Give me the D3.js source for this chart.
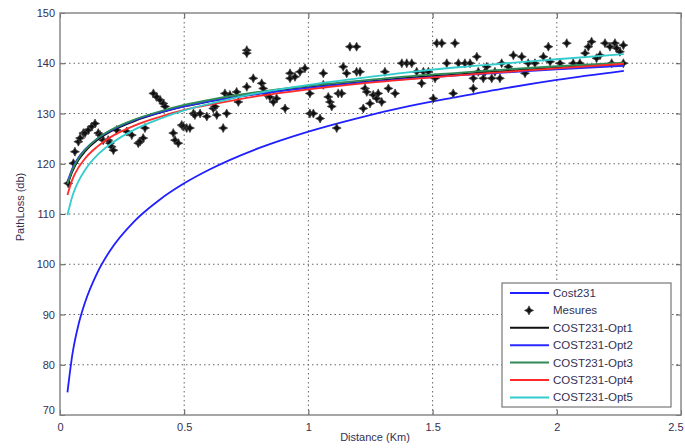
<!DOCTYPE html>
<html><head><meta charset="utf-8">
<script src="https://cdn.jsdelivr.net/npm/d3@7"></script>
<style>body{margin:0;background:#fff}svg{display:block}text{font-family:"Liberation Sans",Arial,sans-serif}</style>
</head><body><svg id="c" width="685" height="448"></svg>
<script>
const xTicks=[0,0.5,1,1.5,2,2.5];
const yTicks=[70,80,90,100,110,120,130,140,150];
const dist=[0.03,0.05,0.075,0.1,0.15,0.2,0.3,0.4,0.5,0.6,0.8,1.0,1.2,1.4,1.6,1.8,2.0,2.27];
const cost231=[74.5,82.1,88.1,92.3,98.3,102.6,108.6,112.8,116.1,118.8,123.1,126.4,129.1,131.4,133.3,135.1,136.7,138.5];
const opt1=[115.7,118.5,120.8,122.4,124.7,126.3,128.5,130.1,131.4,132.4,134.0,135.2,136.2,137.1,137.8,138.5,139.1,139.8];
const opt2=[116.4,119.1,121.3,122.8,125.0,126.5,128.7,130.2,131.4,132.4,133.9,135.1,136.1,136.9,137.6,138.2,138.8,139.5];
const opt3=[116.0,118.8,121.1,122.7,125.0,126.6,128.8,130.4,131.7,132.7,134.3,135.5,136.5,137.4,138.1,138.8,139.4,140.1];
const opt4=[113.8,116.9,119.3,121.0,123.4,125.2,127.6,129.3,130.7,131.7,133.5,134.8,135.9,136.8,137.6,138.3,139.0,139.9];
const opt5=[109.8,113.6,116.6,118.7,121.7,123.8,126.8,128.9,130.6,131.9,134.1,135.7,137.0,138.2,139.2,140.0,140.8,141.8];
const mesX=[0.033,0.054,0.060,0.074,0.081,0.094,0.101,0.114,0.128,0.141,0.154,0.161,0.174,0.194,0.201,0.208,0.215,0.228,0.269,0.289,0.315,0.322,0.335,0.342,0.376,0.389,0.403,0.416,0.423,0.456,0.463,0.476,0.490,0.496,0.510,0.523,0.537,0.543,0.564,0.591,0.617,0.624,0.631,0.657,0.664,0.671,0.684,0.711,0.718,0.752,0.752,0.752,0.778,0.812,0.818,0.832,0.845,0.859,0.872,0.906,0.926,0.926,0.946,0.966,0.986,1.006,1.006,1.020,1.047,1.060,1.060,1.080,1.087,1.094,1.114,1.120,1.134,1.140,1.154,1.167,1.194,1.194,1.208,1.221,1.228,1.235,1.248,1.261,1.275,1.281,1.295,1.308,1.322,1.349,1.376,1.396,1.416,1.436,1.456,1.463,1.483,1.503,1.510,1.517,1.537,1.557,1.583,1.590,1.604,1.630,1.651,1.664,1.664,1.678,1.684,1.704,1.711,1.718,1.738,1.751,1.771,1.778,1.805,1.825,1.859,1.872,1.885,1.912,1.946,1.966,1.973,2.013,2.040,2.066,2.093,2.114,2.127,2.140,2.160,2.174,2.194,2.214,2.221,2.234,2.241,2.254,2.268,2.268];
const mesY=[116.1,120.1,122.4,124.4,125.1,126.1,126.1,126.7,127.4,128.0,126.1,125.7,124.7,124.7,124.1,123.4,122.7,126.7,126.4,125.7,124.1,124.4,125.1,127.1,134.0,133.3,132.7,132.0,131.4,126.1,124.7,124.1,127.7,127.4,127.1,127.1,130.0,129.7,130.0,129.4,131.0,131.4,129.7,127.1,134.0,130.0,133.7,134.3,132.3,142.6,142.0,135.3,137.0,136.0,135.0,133.7,133.3,132.3,133.0,131.0,138.0,137.0,137.3,138.3,139.0,134.0,130.0,130.0,129.0,135.7,138.0,133.3,132.3,131.4,127.1,134.0,134.0,139.3,138.0,143.3,143.3,138.3,138.3,131.0,135.0,134.3,132.0,133.7,133.0,134.0,132.3,138.3,135.0,134.0,140.0,140.0,140.0,138.3,136.0,138.3,138.3,133.0,137.0,144.0,144.0,140.0,134.0,144.0,140.0,140.0,140.0,137.0,135.0,141.3,138.3,137.0,138.3,139.3,137.0,138.3,137.0,140.0,139.3,141.6,141.3,138.0,140.0,140.0,141.3,143.3,140.3,140.0,144.0,140.0,140.0,142.0,143.3,144.3,141.0,141.6,144.0,143.3,140.0,144.0,143.0,142.3,143.6,140.0];
const names=["Cost231","Mesures","COST231-Opt1","COST231-Opt2","COST231-Opt3","COST231-Opt4","COST231-Opt5"];
const colors=["#1f1fff","#000","#111","#2a2aff","#2e8b57","#ff2a2a","#33cccc"];

const svg=d3.select("#c");
const L=60,R=681,T=13,B=415;
const x=d3.scaleLinear().domain([0,2.5]).range([L,R]);
const y=d3.scaleLinear().domain([70,150]).range([B,T]);
const txtCol="#352f52";

const g=svg.append("g");
xTicks.slice(1,-1).forEach(t=>g.append("line").attr("x1",x(t)).attr("x2",x(t)).attr("y1",T).attr("y2",B).attr("stroke","#666").attr("stroke-width",1).attr("stroke-dasharray","1.5,3"));
yTicks.slice(1,-1).forEach(t=>g.append("line").attr("x1",L).attr("x2",R).attr("y1",y(t)).attr("y2",y(t)).attr("stroke","#666").attr("stroke-width",1).attr("stroke-dasharray","1.5,3"));

const ax=svg.append("g").attr("transform",`translate(0,${B})`).call(d3.axisBottom(x).tickValues(xTicks).tickSize(-5).tickPadding(8).tickFormat(d3.format("")));
const ay=svg.append("g").attr("transform",`translate(${L},0)`).call(d3.axisLeft(y).tickValues(yTicks).tickSize(-5).tickPadding(5));
svg.append("g").attr("transform",`translate(0,${T})`).call(d3.axisTop(x).tickValues(xTicks).tickSize(-5).tickFormat(""));
svg.append("g").attr("transform",`translate(${R},0)`).call(d3.axisRight(y).tickValues(yTicks).tickSize(-5).tickFormat(""));
svg.selectAll(".domain").remove();
svg.selectAll(".tick line").attr("stroke","#555");
svg.selectAll(".tick text").attr("fill",txtCol).style("font-size","11px").style("font-family","Liberation Sans, Arial, sans-serif");
ay.selectAll(".tick text").filter(d=>d===70).attr("dy","-0.1em");
ax.selectAll(".tick text").filter(d=>d===2.5).attr("text-anchor","end").attr("dx","2");
svg.append("rect").attr("x",L).attr("y",T).attr("width",R-L).attr("height",B-T).attr("fill","none").attr("stroke","#888").attr("stroke-width",1.5);

svg.append("text").attr("x",375).attr("y",441).attr("text-anchor","middle").attr("fill",txtCol).style("font-size","11px").text("Distance (Km)");
svg.append("text").attr("transform","translate(24,207) rotate(-90)").attr("text-anchor","middle").attr("fill",txtCol).style("font-size","11px").text("PathLoss (db)");

const line=d3.line().x(d=>x(d[0])).y(d=>y(d[1])).curve(d3.curveMonotoneX);
const starPath="M0,-4.5L1.5,-1.5L4.5,0L1.5,1.5L0,4.5L-1.5,1.5L-4.5,0L-1.5,-1.5Z";

const plot=svg.append("g");
plot.append("path").datum(dist.map((d,i)=>[d,cost231[i]])).attr("d",line).attr("fill","none").attr("stroke",colors[0]).attr("stroke-width",1.8);
plot.selectAll("path.m").data(mesX.map((d,i)=>[d,mesY[i]])).enter().append("path").attr("class","m")
  .attr("transform",d=>`translate(${x(d[0])},${y(d[1])})`).attr("d",starPath).attr("fill","#111").attr("stroke","#444").attr("stroke-width",0.8);
[opt1,opt2,opt3,opt4,opt5].forEach((s,k)=>{
  plot.append("path").datum(dist.map((d,i)=>[d,s[i]])).attr("d",line).attr("fill","none").attr("stroke",colors[k+2]).attr("stroke-width",1.8);
});

const lg=svg.append("g");
lg.append("rect").attr("x",502).attr("y",283).attr("width",169).attr("height",124).attr("fill","#fff").attr("stroke","#777").attr("stroke-width",1.2);
names.forEach((n,i)=>{
  const yy=293+i*17.4;
  if(i===1){lg.append("path").attr("transform",`translate(529,${yy})`).attr("d",starPath).attr("fill","#111").attr("stroke","#444").attr("stroke-width",0.8);}
  else lg.append("line").attr("x1",510).attr("x2",549).attr("y1",yy).attr("y2",yy).attr("stroke",colors[i]).attr("stroke-width",2);
  lg.append("text").attr("x",553).attr("y",yy+4).attr("fill",txtCol).style("font-size","11.5px").text(n);
});
</script></body></html>
